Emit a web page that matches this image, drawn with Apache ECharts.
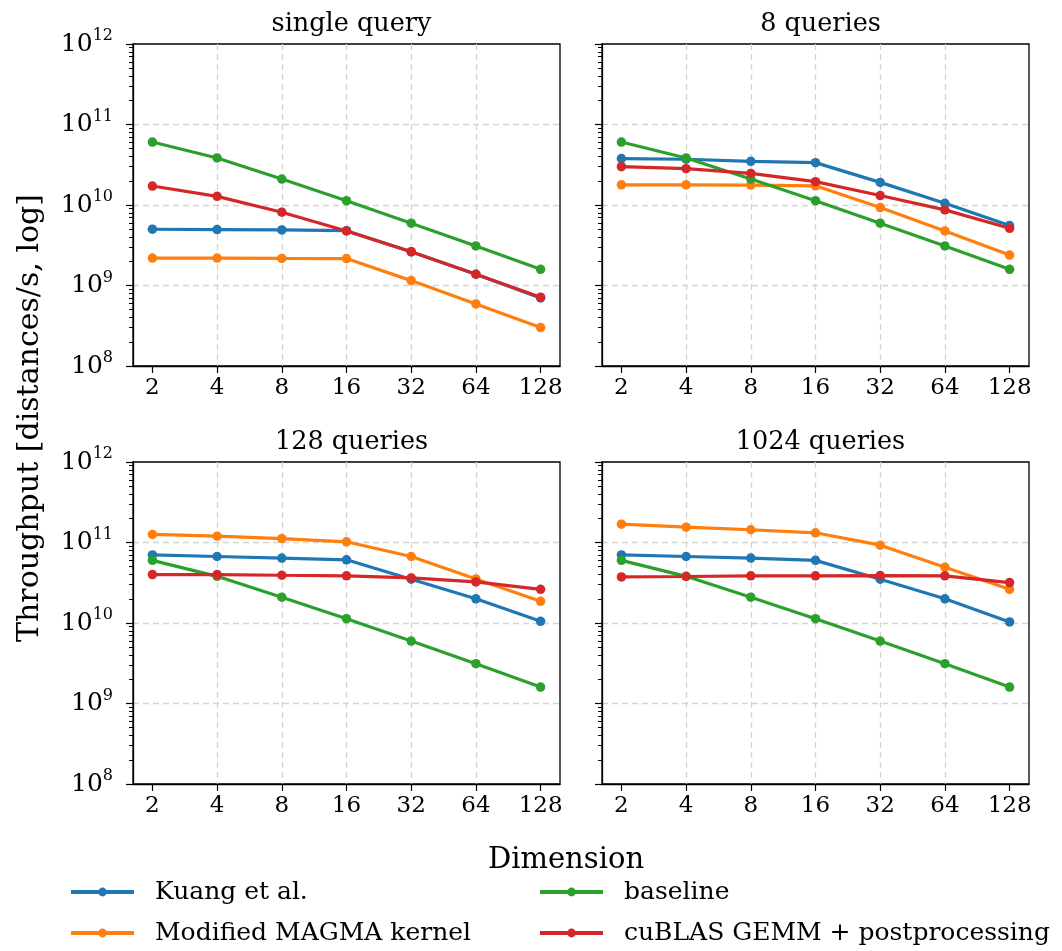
<!DOCTYPE html>
<html><head><meta charset="utf-8">
<script src="https://cdn.jsdelivr.net/npm/echarts@6/dist/echarts.min.js"></script>
<style>html,body{margin:0;padding:0;background:#fff}#c{width:1062px;height:951px}</style>
</head><body><div id="c"></div>
<script>
// ---- data ----
const dims = ['2', '4', '8', '16', '32', '64', '128'];
const panelTitles = ['single query', '8 queries', '128 queries', '1024 queries'];
const seriesNames = ['Kuang et al.', 'Modified MAGMA kernel', 'baseline', 'cuBLAS GEMM + postprocessing'];
const colors = ['#1f77b4', '#ff7f0e', '#2ca02c', '#d62728'];
// rows: single query, 8 queries, 128 queries, 1024 queries
const kuang = [
  [5.0e9, 4.95e9, 4.9e9, 4.8e9, 2.62e9, 1.38e9, 7.0e8],
  [3.77e10, 3.70e10, 3.49e10, 3.36e10, 1.91e10, 1.05e10, 5.55e9],
  [7.0e10, 6.7e10, 6.4e10, 6.1e10, 3.5e10, 2.0e10, 1.05e10],
  [7.0e10, 6.7e10, 6.4e10, 6.0e10, 3.5e10, 2.0e10, 1.03e10]
];
const magma = [
  [2.19e9, 2.19e9, 2.17e9, 2.16e9, 1.15e9, 5.9e8, 3.0e8],
  [1.78e10, 1.78e10, 1.77e10, 1.73e10, 9.3e9, 4.76e9, 2.39e9],
  [1.26e11, 1.2e11, 1.12e11, 1.02e11, 6.7e10, 3.53e10, 1.86e10],
  [1.69e11, 1.55e11, 1.44e11, 1.32e11, 9.26e10, 4.93e10, 2.62e10]
];
const baseline = [
  [6.05e10, 3.84e10, 2.1e10, 1.13e10, 5.95e9, 3.1e9, 1.59e9],
  [6.05e10, 3.84e10, 2.1e10, 1.13e10, 5.95e9, 3.1e9, 1.59e9],
  [6.0e10, 3.8e10, 2.09e10, 1.13e10, 5.97e9, 3.12e9, 1.6e9],
  [6.0e10, 3.8e10, 2.09e10, 1.13e10, 5.97e9, 3.12e9, 1.6e9]
];
const cublas = [
  [1.72e10, 1.28e10, 8.14e9, 4.76e9, 2.63e9, 1.38e9, 7.15e8],
  [2.99e10, 2.83e10, 2.47e10, 1.95e10, 1.31e10, 8.7e9, 5.14e9],
  [4.0e10, 4.0e10, 3.92e10, 3.85e10, 3.63e10, 3.24e10, 2.62e10],
  [3.74e10, 3.78e10, 3.85e10, 3.85e10, 3.88e10, 3.85e10, 3.18e10]
];
const yMajorTicks = [1e8, 1e9, 1e10, 1e11, 1e12];
const yMin = 1e8, yMax = 1e12;

// ---- layout ----
const FONT = 'DejaVu Serif';
const panels = [
  {left: 133, top: 44}, {left: 602, top: 44},
  {left: 133, top: 462}, {left: 602, top: 462}
];
const W = 427, H = 322;
const allValues = [kuang, magma, baseline, cublas];

const minorTicks = [];
for (let e = 8; e < 12; e++) for (let m = 2; m <= 9; m++) minorTicks.push(m * Math.pow(10, e));
const xIdx = dims.map((d, i) => i);
const gridLine = {show: true, showMinLine: false, showMaxLine: false,
  lineStyle: {color: '#d4d4d4', width: 1.3, type: [6, 4]}};

const grid = [], xAxis = [], yAxis = [], series = [], title = [];
panels.forEach((p, gi) => {
  const showYLabels = (gi % 2 === 0);
  grid.push({left: p.left, top: p.top, width: W, height: H, show: true,
    borderColor: '#000', borderWidth: 1.3, backgroundColor: 'transparent', outerBoundsMode: 'none'});
  xAxis.push({
    type: 'value', gridIndex: gi, min: -0.3, max: 6.3,
    axisLine: {show: true, onZero: false, lineStyle: {color: '#000', width: 1.3}},
    axisTick: {show: true, length: 7, customValues: xIdx, lineStyle: {color: '#000', width: 1.2}},
    axisLabel: {show: true, customValues: xIdx, margin: 11, formatter: v => dims[Math.round(v)],
      fontFamily: FONT, fontSize: 23, color: '#000'},
    splitLine: gridLine
  });
  yAxis.push({
    type: 'log', gridIndex: gi, min: yMin, max: yMax, logBase: 10,
    axisLine: {show: true, onZero: false, lineStyle: {color: '#000', width: 1.3}},
    axisTick: {show: true, length: 7, customValues: yMajorTicks, lineStyle: {color: '#000', width: 1.2}},
    axisLabel: {show: showYLabels, customValues: yMajorTicks, margin: 20, color: '#000',
      formatter: v => '{b|10}{s|' + Math.round(Math.log10(v)) + '}',
      rich: {
        b: {fontFamily: FONT, fontSize: 25, lineHeight: 28, color: '#000'},
        s: {fontFamily: FONT, fontSize: 16, lineHeight: 16, padding: [0, 0, 16, 0], color: '#000'}
      }},
    splitLine: gridLine
  });
  yAxis.push({
    type: 'log', gridIndex: gi, min: yMin, max: yMax, logBase: 10, position: 'left',
    axisLine: {show: false, onZero: false},
    axisTick: {show: true, length: 4, customValues: minorTicks, lineStyle: {color: '#000', width: 1}},
    axisLabel: {show: false},
    splitLine: {show: false}
  });
  title.push({
    text: panelTitles[gi], left: p.left + W / 2, top: p.top - 40, textAlign: 'center',
    textStyle: {fontFamily: FONT, fontSize: 25.5, fontWeight: 'normal', color: '#000', lineHeight: 30}
  });
  seriesNames.forEach((name, si) => {
    series.push({
      type: 'line', name: name, xAxisIndex: gi, yAxisIndex: gi * 2,
      data: allValues[si][gi].map((v, i) => [xIdx[i], v]),
      symbol: 'circle', symbolSize: 9.5, showSymbol: true,
      lineStyle: {color: colors[si], width: 3.2},
      itemStyle: {color: colors[si]},
      color: colors[si], animation: false, silent: true, z: 3 + si
    });
  });
});

const legendText = {fontFamily: FONT, fontSize: 25, color: '#000', lineHeight: 30, padding: [0, 0, 0, 16]};
const legendCommon = {orient: 'vertical', top: 877, itemWidth: 63, itemHeight: 11, itemGap: 11,
  textStyle: legendText, selectedMode: false, padding: 0, lineStyle: {width: 4}};
const option = {
  animation: false,
  backgroundColor: '#fff',
  title: title,
  grid: grid, xAxis: xAxis, yAxis: yAxis, series: series,
  legend: [
    Object.assign({data: [seriesNames[0], seriesNames[1]], left: 69}, legendCommon),
    Object.assign({data: [seriesNames[2], seriesNames[3]], left: 538}, legendCommon)
  ],
  graphic: [
    {type: 'text', x: 566, y: 860, style: {text: 'Dimension', font: '29px "' + FONT + '"', fill: '#000',
      textAlign: 'center', textVerticalAlign: 'middle'}},
    {type: 'text', x: 30, y: 418, rotation: Math.PI / 2,
      style: {text: 'Throughput [distances/s, log]', font: '30px "' + FONT + '"', fill: '#000',
      textAlign: 'center', textVerticalAlign: 'middle'}}
  ]
};
const chart = echarts.init(document.getElementById('c'));
chart.setOption(option);
</script></body></html>
